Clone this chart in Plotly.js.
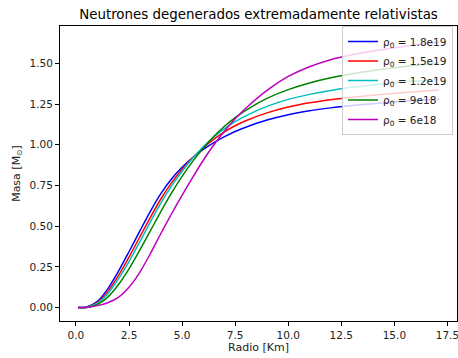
<!DOCTYPE html>
<html>
<head>
<meta charset="utf-8">
<script src="https://cdn.plot.ly/plotly-3.0.1.min.js"></script>
<style>html,body{margin:0;padding:0;background:#fff;}#chart{width:458px;height:358px;}</style>
</head>
<body>
<div id="chart"></div>
<script>
// Radius grid [Km]
const radio = [0.1, 0.5, 1.0, 1.5, 2.0, 2.5, 3.0, 3.5, 4.0, 4.5, 5.0, 5.5, 6.0, 6.5, 7.0, 7.5, 8.0, 9.0, 10.0, 11.0, 12.0, 13.0, 14.0, 15.0, 16.0, 17.1];

// Mass [M_sun] for each central density
const masa_18e19 = [0, 0.003, 0.036, 0.115, 0.222, 0.343, 0.468, 0.59, 0.7, 0.79, 0.862, 0.922, 0.972, 1.014, 1.05, 1.082, 1.108, 1.152, 1.185, 1.209, 1.227, 1.241, 1.253, 1.263, 1.272, 1.28];
const masa_15e19 = [0, 0.002, 0.03, 0.098, 0.196, 0.31, 0.432, 0.553, 0.667, 0.766, 0.85, 0.921, 0.982, 1.035, 1.08, 1.117, 1.148, 1.196, 1.232, 1.258, 1.277, 1.292, 1.305, 1.316, 1.326, 1.337];
const masa_12e19 = [0, 0.002, 0.025, 0.085, 0.176, 0.283, 0.402, 0.525, 0.642, 0.746, 0.838, 0.918, 0.988, 1.048, 1.099, 1.142, 1.178, 1.236, 1.279, 1.31, 1.334, 1.353, 1.368, 1.381, 1.392, 1.402];
const masa_9e18 = [0, 0.001, 0.018, 0.064, 0.14, 0.238, 0.351, 0.47, 0.59, 0.703, 0.806, 0.898, 0.98, 1.052, 1.114, 1.167, 1.212, 1.285, 1.339, 1.38, 1.412, 1.437, 1.457, 1.474, 1.489, 1.503];
const masa_6e18 = [0, 0.001, 0.012, 0.03, 0.063, 0.125, 0.215, 0.33, 0.455, 0.575, 0.69, 0.8, 0.905, 1.0, 1.085, 1.16, 1.225, 1.335, 1.42, 1.48, 1.523, 1.553, 1.577, 1.597, 1.614, 1.63];

const etiquetas = ['ρ<sub>0</sub> = 1.8e19', 'ρ<sub>0</sub> = 1.5e19', 'ρ<sub>0</sub> = 1.2e19', 'ρ<sub>0</sub> = 9e18', 'ρ<sub>0</sub> = 6e18'];

// Tick positions and labels
const xTicks = [0, 2.5, 5, 7.5, 10, 12.5, 15, 17.5];
const xTickText = ['0.0', '2.5', '5.0', '7.5', '10.0', '12.5', '15.0', '17.5'];
const yTicks = [0, 0.25, 0.5, 0.75, 1.0, 1.25, 1.5];
const yTickText = ['0.00', '0.25', '0.50', '0.75', '1.00', '1.25', '1.50'];

const series = [masa_18e19, masa_15e19, masa_12e19, masa_9e18, masa_6e18];
const colores = ['#0000ff', '#ff0000', '#00bfbf', '#008000', '#bf00bf'];

const traces = series.map((ys, i) => ({
  x: radio, y: ys, type: 'scatter', mode: 'lines', name: etiquetas[i],
  legendgroup: 'g' + i,
  line: {color: colores[i], width: 1.5, shape: 'spline', smoothing: 0.8}
}));

const FAM = 'DejaVu Sans, sans-serif';
const axisCommon = {
  showline: true, mirror: true, linecolor: '#000', linewidth: 1,
  ticks: 'outside', ticklen: 4, tickcolor: '#000', tickwidth: 1,
  showgrid: false, zeroline: false, automargin: false, ticklabeloverflow: 'allow',
  tickfont: {family: FAM, size: 10.5, color: '#222'}
};

const layout = {
  width: 458, height: 358,
  margin: {l: 60, r: 1, t: 26, b: 37, pad: 0},
  paper_bgcolor: '#fff', plot_bgcolor: '#fff',
  font: {family: FAM, size: 10.5, color: '#222'},
  showlegend: true,
  title: {text: 'Neutrones degenerados extremadamente relativistas', x: 0.5, xref: 'paper', xanchor: 'center', y: 0.961, yanchor: 'middle', yref: 'container',
          font: {family: FAM, size: 13.4, color: '#000'}},
  xaxis: Object.assign({}, axisCommon, {
    range: [-0.75, 17.95], tickmode: 'array', tickvals: xTicks, ticktext: xTickText,
    title: {text: 'Radio [Km]', standoff: 3, font: {family: FAM, size: 11, color: '#222'}}
  }),
  yaxis: Object.assign({}, axisCommon, {
    range: [-0.0825, 1.73], tickmode: 'array', tickvals: yTicks, ticktext: yTickText,
    title: {text: 'Masa [M<sub>⊙</sub>]', standoff: 6, font: {family: FAM, size: 11, color: '#222'}}
  }),
  legend: {
    x: 0.99, xanchor: 'right', y: 1.0, yanchor: 'top',
    bgcolor: 'rgba(255,255,255,0.8)', bordercolor: '#cccccc', borderwidth: 1,
    font: {family: FAM, size: 10.5, color: '#222'},
    tracegroupgap: 0.5, itemwidth: 30
  }
};

Plotly.newPlot('chart', traces, layout, {staticPlot: true, displayModeBar: false});
</script>
</body>
</html>
